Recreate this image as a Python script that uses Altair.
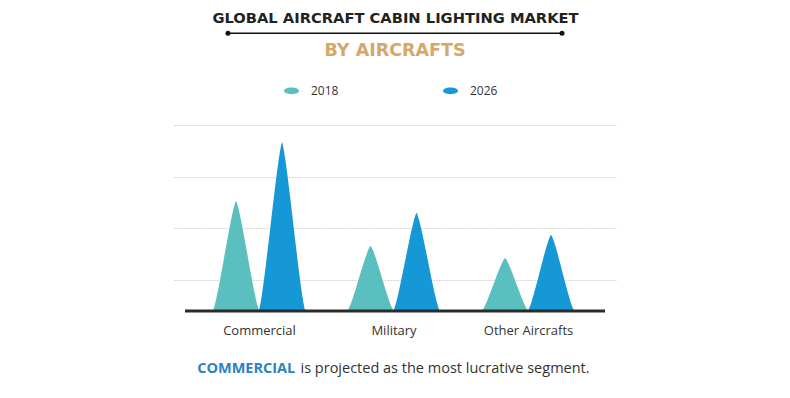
import json
import altair as alt
import pandas as pd

# ---- data ----
categories = ["Commercial", "Military", "Other Aircrafts"]
years = ["2018", "2026"]
values_2018 = [106.7, 63.2, 51.3]
values_2026 = [163.5, 95.1, 73.8]
grid_values = [30, 80, 130, 180]

title_text = ["GLOBAL AIRCRAFT CABIN LIGHTING MARKET"]
subtitle_text = ["BY AIRCRAFTS"]
note_bold = ["COMMERCIAL"]
note_rest = ["is projected as the most lucrative segment."]

colors = ["#5BBFC0", "#1598D5"]

rows = []
for i, c in enumerate(categories):
    rows.append({"category": c, "idx": i, "year": years[0], "value": values_2018[i]})
    rows.append({"category": c, "idx": i, "year": years[1], "value": values_2026[i]})
df = pd.DataFrame(rows)

W, H = 442, 186
OFFSET = 0.171
HALF = 0.174
ellipse = "M-1,0A1,0.45,0,1,0,1,0A1,0.45,0,1,0,-1,0Z"

peaks = alt.Chart(df).transform_calculate(
    k="sequence(-50, 51)"
).transform_flatten(["k"]).transform_calculate(
    t="datum.k / 50",
    xpos=f"datum.idx + (datum.year == '{years[0]}' ? -{OFFSET} : {OFFSET}) + datum.t * {HALF}",
    ypos="datum.value * pow(max(0, 1 - pow(abs(datum.t), 1.3)), 1.35)",
).mark_area(opacity=1, interpolate="monotone").encode(
    x=alt.X(
        "xpos:Q",
        scale=alt.Scale(domain=[-0.632, 2.654], nice=False, zero=False),
        axis=alt.Axis(
            values=[0, 1, 2],
            labelExpr=json.dumps(categories) + "[datum.value]",
            grid=False, domain=False, ticks=False, tickSize=0,
            labelPadding=13, labelFont="Open Sans", labelFontSize=13,
            labelColor="#333333", labelAngle=0, title=None,
        ),
    ),
    y=alt.Y(
        "ypos:Q",
        stack=None,
        scale=alt.Scale(domain=[0, 180], nice=False),
        axis=alt.Axis(
            values=grid_values, grid=True, labels=False, ticks=False,
            domain=False, title=None, gridColor="#d4d4d4", gridWidth=1,
            gridDash=[2, 1],
        ),
    ),
    color=alt.Color(
        "year:N",
        scale=alt.Scale(domain=years, range=colors),
        legend=alt.Legend(
            orient="none", legendX=110, legendY=-42, direction="horizontal",
            title=None, symbolType=ellipse, symbolSize=225,
            symbolStrokeWidth=0, symbolOpacity=1,
            labelFont="Open Sans", labelFontSize=12, labelColor="#333333",
            labelOffset=12, columnPadding=104, padding=0,
        ),
    ),
    detail="category:N",
)

baseline = alt.Chart(pd.DataFrame({"a": [0]})).mark_rule(
    color="#2b2b2b", strokeWidth=3
).encode(x=alt.value(11), x2=alt.value(431), y=alt.value(H))

title = alt.Chart(pd.DataFrame({"text": title_text})).mark_text(
    font="DejaVu Sans", fontWeight="bold", fontSize=14.7, color="#222222",
    align="center", baseline="alphabetic",
).encode(text="text:N", x=alt.value(221.5), y=alt.value(-102.3))

title_line = alt.Chart(pd.DataFrame({"a": [0]})).mark_rule(
    color="#111111", strokeWidth=1.5
).encode(x=alt.value(54), x2=alt.value(388), y=alt.value(-91.7))

dot_left = alt.Chart(pd.DataFrame({"a": [0]})).mark_circle(
    color="#111111", size=25, opacity=1
).encode(x=alt.value(54), y=alt.value(-91.7))
dot_right = alt.Chart(pd.DataFrame({"a": [0]})).mark_circle(
    color="#111111", size=25, opacity=1
).encode(x=alt.value(388), y=alt.value(-91.7))

subtitle = alt.Chart(pd.DataFrame({"text": subtitle_text})).mark_text(
    font="DejaVu Sans", fontWeight="bold", fontSize=17.5, color="#D5A86A",
    align="center", baseline="alphabetic",
).encode(text="text:N", x=alt.value(221), y=alt.value(-69.3))

note1 = alt.Chart(pd.DataFrame({"text": note_bold})).mark_text(
    font="Open Sans", fontWeight="bold", fontSize=14.5, color="#2A83C2",
    align="right", baseline="alphabetic",
).encode(text="text:N", x=alt.value(121.3), y=alt.value(248.3))

note2 = alt.Chart(pd.DataFrame({"text": note_rest})).mark_text(
    font="Open Sans", fontSize=14.5, color="#333333",
    align="left", baseline="alphabetic",
).encode(text="text:N", x=alt.value(126.5), y=alt.value(248.3))

chart = alt.layer(
    peaks, baseline, title, title_line, dot_left, dot_right, subtitle, note1, note2
).properties(
    width=W, height=H, background="white",
    padding={"left": 166, "top": 117, "right": 150, "bottom": 70},
    autosize=alt.AutoSizeParams(type="none"),
).configure_view(stroke=None, strokeWidth=0)

chart.save("out.html", embed_options={"renderer": "svg", "actions": False})
